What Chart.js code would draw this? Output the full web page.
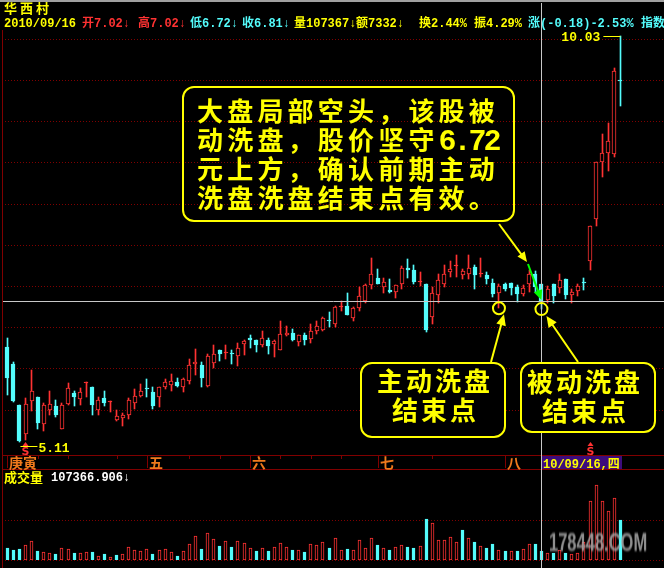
<!DOCTYPE html>
<html>
<head>
<meta charset="utf-8">
<script src="https://cdn.jsdelivr.net/npm/chart.js@4.4.1/dist/chart.umd.min.js"></script>
<style>
  html, body { margin: 0; padding: 0; background: #000; }
  #wrap { position: relative; width: 664px; height: 568px; overflow: hidden; background: #000; }
  #wrap canvas { position: absolute; left: 0; }
  .t { position: absolute; white-space: pre; font-weight: bold; line-height: 1; pointer-events: none; }
  .mono { font-family: "Liberation Mono", "Noto Sans CJK SC", monospace; font-size: 12px; }
  .cjk { font-family: "Noto Sans CJK SC", sans-serif; }
  .box { position: absolute; border: 2px solid #ffff00; border-radius: 12px; box-sizing: border-box; }
  .note { position: absolute; white-space: pre; font-family: "Noto Sans CJK SC", sans-serif; font-weight: bold;
          color: #ffff00; font-size: 26px; line-height: 29px; }
  .note .num { font-family: "Liberation Mono", monospace; font-size: 30px; letter-spacing: -3px; }
  .wm { position: absolute; left: 549px; top: 528px; font-family: "Liberation Sans", sans-serif; font-weight: bold;
        font-size: 25px; color: #a8a8a8; transform: scaleX(0.66); transform-origin: 0 0; filter: blur(0.9px);
        opacity: 0.85; white-space: pre; }
</style>
</head>
<body>
<div id="wrap">
  <canvas id="price" width="664" height="470" style="top:0"></canvas>
  <canvas id="vol" width="664" height="98" style="top:470px"></canvas>
  <div id="labels"></div>
</div>
<script>
// ---- 华西村 daily quotes ----
const dates = [
  '2010-05-12','2010-05-13','2010-05-14','2010-05-17','2010-05-18','2010-05-19','2010-05-20','2010-05-21',
  '2010-05-24','2010-05-25','2010-05-26','2010-05-27','2010-05-28','2010-05-31',
  '2010-06-01','2010-06-02','2010-06-03','2010-06-04','2010-06-07','2010-06-08','2010-06-09','2010-06-10',
  '2010-06-11','2010-06-17','2010-06-18','2010-06-21','2010-06-22','2010-06-23','2010-06-24','2010-06-25',
  '2010-06-28','2010-06-29','2010-06-30',
  '2010-07-01','2010-07-02','2010-07-05','2010-07-06','2010-07-07','2010-07-08','2010-07-09','2010-07-12',
  '2010-07-13','2010-07-14','2010-07-15','2010-07-16','2010-07-19','2010-07-20','2010-07-21','2010-07-22',
  '2010-07-23','2010-07-26','2010-07-27','2010-07-28','2010-07-29','2010-07-30',
  '2010-08-02','2010-08-03','2010-08-04','2010-08-05','2010-08-06','2010-08-09','2010-08-10','2010-08-11',
  '2010-08-12','2010-08-13','2010-08-16','2010-08-17','2010-08-18','2010-08-19','2010-08-20','2010-08-23',
  '2010-08-24','2010-08-25','2010-08-26','2010-08-27','2010-08-30','2010-08-31',
  '2010-09-01','2010-09-02','2010-09-03','2010-09-06','2010-09-07','2010-09-08','2010-09-09','2010-09-10',
  '2010-09-13','2010-09-14','2010-09-15','2010-09-16','2010-09-17','2010-09-20','2010-09-21','2010-09-27',
  '2010-09-28','2010-09-29','2010-09-30',
  '2010-10-08','2010-10-11','2010-10-12','2010-10-13','2010-10-14','2010-10-15'
];

const open = [
  6.26,6.05,5.56,5.21,5.60,5.65,5.33,5.50,5.54,5.26,
  5.57,5.70,5.63,5.82,5.78,5.50,5.64,5.59,5.38,5.40,
  5.44,5.58,5.67,5.76,5.72,5.65,5.77,5.80,5.84,5.77,
  5.85,6.06,6.04,5.79,6.07,6.22,6.19,6.19,6.15,6.30,
  6.37,6.34,6.28,6.35,6.30,6.23,6.41,6.43,6.32,6.41,
  6.36,6.46,6.47,6.59,6.54,6.75,6.76,6.61,6.73,6.82,
  7.01,7.10,6.99,6.95,6.93,7.02,7.22,7.19,7.05,7.02,
  6.62,6.89,7.02,7.17,7.24,7.13,7.15,7.23,7.14,7.13,
  7.04,6.92,7.02,7.04,6.99,6.90,7.03,7.14,7.02,6.83,
  7.02,6.98,7.09,6.89,6.94,7.05,7.30,7.81,8.51,8.61,
  8.60,9.50
];
const high = [
  6.37,6.08,5.56,5.64,5.98,5.65,5.58,5.73,5.62,5.58,
  5.82,5.73,5.76,5.84,5.78,5.65,5.73,5.61,5.50,5.46,
  5.64,5.75,5.81,5.87,5.77,5.78,5.87,5.93,5.88,5.88,
  6.11,6.24,6.08,6.17,6.28,6.22,6.28,6.22,6.31,6.35,
  6.40,6.35,6.46,6.37,6.34,6.57,6.51,6.48,6.40,6.43,
  6.54,6.57,6.62,6.68,6.76,6.82,6.91,6.74,6.99,7.02,
  7.34,7.21,7.10,7.09,7.01,7.24,7.33,7.26,7.17,7.03,
  6.99,7.15,7.26,7.30,7.38,7.21,7.38,7.26,7.34,7.17,
  7.09,7.03,7.04,7.04,7.01,7.01,7.20,7.18,7.02,7.00,
  7.02,7.15,7.09,6.96,7.02,7.10,7.73,8.50,8.85,8.98,
  9.64,10.03
];
const low = [
  5.68,5.59,5.11,5.13,5.48,5.26,5.24,5.44,5.41,5.26,
  5.56,5.55,5.56,5.65,5.44,5.43,5.54,5.47,5.36,5.30,
  5.39,5.51,5.65,5.65,5.51,5.53,5.75,5.73,5.77,5.72,
  5.81,5.92,5.77,5.78,6.01,6.09,6.12,6.05,6.03,6.16,
  6.25,6.20,6.26,6.17,6.14,6.22,6.39,6.33,6.27,6.29,
  6.31,6.42,6.46,6.50,6.50,6.70,6.65,6.58,6.70,6.80,
  6.96,7.03,6.92,6.91,6.85,6.96,7.10,7.02,7.00,6.44,
  6.54,6.79,6.99,7.11,7.11,7.09,7.09,6.96,7.11,7.03,
  6.87,6.73,6.94,6.89,6.81,6.88,6.93,6.93,6.72,6.80,
  6.80,6.92,6.84,6.80,6.88,6.95,7.20,7.73,8.32,8.39,
  8.57,9.19
];
const close = [
  5.88,5.61,5.12,5.57,5.73,5.34,5.56,5.57,5.44,5.56,
  5.76,5.65,5.71,5.83,5.56,5.62,5.58,5.60,5.42,5.44,
  5.62,5.67,5.73,5.75,5.55,5.77,5.84,5.85,5.79,5.87,
  6.04,6.08,5.88,6.15,6.18,6.17,6.20,6.18,6.25,6.33,
  6.34,6.28,6.37,6.27,6.33,6.42,6.43,6.35,6.40,6.35,
  6.46,6.51,6.61,6.57,6.75,6.76,6.65,6.73,6.88,7.01,
  7.15,7.03,7.05,6.93,7.01,7.22,7.19,7.05,7.06,6.47,
  6.91,7.07,7.15,7.21,7.25,7.18,7.22,7.13,7.15,7.09,
  6.90,7.00,6.96,6.98,6.90,6.98,7.15,6.99,6.81,6.97,
  6.88,7.07,6.89,6.93,7.00,7.04,7.73,8.50,8.61,8.76,
  9.61,9.49
];
// 成交量 (手)
const volume = [
  146700,119300,131200,179000,226700,107400,91900,79900,68000,139600,
  131200,83500,79900,91900,95400,47700,71600,35800,59700,68000,
  155100,119300,107400,131200,71600,119300,131200,95400,47700,107400,
  190900,286300,131200,322100,250500,167000,226700,155100,226700,202800,
  143200,107400,143200,107400,155100,202800,155100,119300,119300,95400,
  190900,179000,214700,143200,262500,119300,131200,119300,238600,143200,
  262500,179000,143200,119300,155100,179000,155100,143200,167000,489100,
  441400,238600,238600,274400,214700,357900,262500,214700,167000,143200,
  190900,119300,107400,107400,107400,131200,190900,190900,107366.906,83500,
  83500,119300,83500,71600,83500,214700,703900,894800,703900,584600,
  739700,477200
];

// lunar calendar month starts shown on the date strip
const lunarLabels = ['庚寅', '五', '六', '七', '八'];
const lunarStarts = ['2010-05-12', '2010-06-17', '2010-07-12', '2010-08-10', '2010-09-08'];
const minorTickDates = ['2010-05-19','2010-05-26','2010-06-07','2010-06-28','2010-07-05','2010-07-19',
                        '2010-07-26','2010-08-02','2010-08-23'];
const priceGrid = [5.5, 6.0, 6.5, 7.0, 7.5, 8.0, 8.5, 9.0, 9.5, 10.0];
const volumeGrid = [0, 477000];
const signalDates = ['2010-05-17', '2010-10-08'];
const focusDate = '2010-09-16';
const activeWashDate = '2010-09-07';
const quoteAmount = '7332';
const quoteTurnover = '2.44%';
const quotePct = '-2.53%';
const noteMain = ['大盘局部空头，该股被', '动洗盘，股价坚守' + '6.72', '元上方，确认前期主动', '洗盘洗盘结束点有效。'];
const noteActive = ['主动洗盘', '结束点'];
const notePassive = ['被动洗盘', '结束点'];

// ---- derived ----
const RED = '#ff3232', CYAN = '#54fcfc', YELLOW = '#ffff00', GRID = '#800000', CROSS = '#c8c8c8';
const up = close.map((c, i) => c >= open[i]);
const doji = close.map((c, i) => Math.abs(c - open[i]) < 0.015);
const volUp = close.map((c, i) => i === 0 ? c >= open[i] : c >= close[i - 1]);
const focus = dates.indexOf(focusDate);
const washA = dates.indexOf(activeWashDate);
const hiIdx = high.indexOf(Math.max(...high));
const loIdx = low.indexOf(Math.min(...low));

const xAxis = { type: 'linear', min: -0.544, max: 107.86, offset: false, display: false };

// keep bar edges on whole pixels so the thin candles stay crisp
const pixelSnap = {
  id: 'pixelSnap',
  beforeDatasetsDraw(chart) {
    chart.data.datasets.forEach((ds, k) => {
      chart.getDatasetMeta(k).data.forEach(el => {
        const w = Math.round(el.width);
        el.x = (w % 2 === 1) ? Math.floor(el.x) + 0.5 : Math.round(el.x);
        el.y = Math.round(el.y);
        el.base = Math.round(el.base);
      });
    });
  }
};

function arrow(ctx, x1, y1, x2, y2, color, head) {
  const a = Math.atan2(y2 - y1, x2 - x1);
  ctx.strokeStyle = color; ctx.fillStyle = color; ctx.lineWidth = 2;
  ctx.beginPath();
  ctx.moveTo(x1, y1);
  ctx.lineTo(x2 - Math.cos(a) * head * 0.7, y2 - Math.sin(a) * head * 0.7);
  ctx.stroke();
  ctx.beginPath();
  ctx.moveTo(x2, y2);
  ctx.lineTo(x2 - head * Math.cos(a - 0.42), y2 - head * Math.sin(a - 0.42));
  ctx.lineTo(x2 - head * Math.cos(a + 0.42), y2 - head * Math.sin(a + 0.42));
  ctx.closePath();
  ctx.fill();
}

const pricePanel = {
  id: 'pricePanel',
  beforeDatasetsDraw(chart) {
    const { ctx, scales: { y } } = chart;
    ctx.save();
    ctx.fillStyle = '#a0a0a0';
    ctx.fillRect(0, 0, 664, 2);
    ctx.strokeStyle = GRID; ctx.lineWidth = 1; ctx.setLineDash([1, 2]);
    priceGrid.forEach(v => {
      const py = Math.round(y.getPixelForValue(v)) + 0.5;
      ctx.beginPath(); ctx.moveTo(5, py); ctx.lineTo(664, py); ctx.stroke();
    });
    ctx.restore();
  },
  afterDatasetsDraw(chart) {
    const { ctx, scales: { x, y } } = chart;
    ctx.save();
    // panel frame
    ctx.strokeStyle = GRID; ctx.lineWidth = 1;
    ctx.beginPath(); ctx.moveTo(2.5, 30); ctx.lineTo(2.5, 470); ctx.stroke();
    ctx.beginPath(); ctx.moveTo(2, 455.5); ctx.lineTo(664, 455.5); ctx.moveTo(2, 469.5); ctx.lineTo(664, 469.5); ctx.stroke();
    // date strip ticks and lunar month labels
    minorTickDates.forEach(d => {
      const px = Math.round(x.getPixelForValue(dates.indexOf(d))) + 0.5;
      ctx.beginPath(); ctx.moveTo(px, 456); ctx.lineTo(px, 459); ctx.stroke();
    });
    ctx.font = 'bold 14px "Noto Sans CJK SC"';
    ctx.textBaseline = 'alphabetic';
    lunarStarts.forEach((d, k) => {
      const px = Math.round(x.getPixelForValue(dates.indexOf(d))) + 0.5;
      ctx.strokeStyle = GRID;
      ctx.beginPath(); ctx.moveTo(px, 456); ctx.lineTo(px, 468); ctx.stroke();
      ctx.fillStyle = '#f07a1c';
      ctx.fillText(lunarLabels[k], px + 1.5, 467.5);
    });

    // crosshair
    const cx = Math.floor(x.getPixelForValue(focus)) + 0.5;
    const cy = Math.floor(y.getPixelForValue(close[focus])) + 0.5;
    ctx.strokeStyle = CROSS; ctx.lineWidth = 1;
    ctx.beginPath(); ctx.moveTo(3, cy); ctx.lineTo(664, cy); ctx.stroke();
    ctx.beginPath(); ctx.moveTo(cx, 3); ctx.lineTo(cx, 470); ctx.stroke();

    // crosshair date box
    const [yy, mm, dd] = dates[focus].split('-');
    const wk = '日一二三四五六'[new Date(+yy, +mm - 1, +dd).getDay()];
    ctx.fillStyle = '#3c0c7c';
    ctx.fillRect(cx + 0.5, 456, 80, 13);
    ctx.fillStyle = YELLOW;
    ctx.font = 'bold 12px "Liberation Mono", "Noto Sans CJK SC"';
    ctx.fillText(yy.slice(2) + '/' + mm + '/' + dd + ',' + wk, cx + 1.5, 467.5);

    // signal markers
    ctx.fillStyle = RED;
    signalDates.forEach(d => {
      const px = Math.floor(x.getPixelForValue(dates.indexOf(d))) + 0.5;
      ctx.beginPath(); ctx.moveTo(px, 442); ctx.lineTo(px - 3, 446); ctx.lineTo(px + 3, 446); ctx.closePath(); ctx.fill();
      ctx.font = 'bold 11px "DejaVu Sans"';
      ctx.textAlign = 'center';
      ctx.fillText('S', px, 455);
      ctx.textAlign = 'left';
    });

    // high / low readouts
    ctx.font = 'bold 13px "Liberation Mono"';
    ctx.fillStyle = YELLOW; ctx.strokeStyle = YELLOW; ctx.lineWidth = 1;
    const hx = x.getPixelForValue(hiIdx), hy = Math.round(y.getPixelForValue(high[hiIdx])) + 0.5;
    ctx.beginPath(); ctx.moveTo(hx - 17, hy); ctx.lineTo(hx, hy); ctx.stroke();
    ctx.textAlign = 'right';
    ctx.fillText(high[hiIdx].toFixed(2), hx - 20, hy + 4);
    const lx = x.getPixelForValue(loIdx), ly = Math.round(y.getPixelForValue(low[loIdx])) + 0.5;
    ctx.beginPath(); ctx.moveTo(lx + 1, ly + 4); ctx.lineTo(lx + 18, ly + 4); ctx.stroke();
    ctx.textAlign = 'left';
    ctx.fillText(low[loIdx].toFixed(2), lx + 19, ly + 9);

    // wash-out end points
    const c1 = { x: x.getPixelForValue(washA), y: y.getPixelForValue(low[washA]) };
    const c2 = { x: x.getPixelForValue(focus), y: y.getPixelForValue(low[focus]) };
    ctx.strokeStyle = YELLOW; ctx.lineWidth = 2;
    [c1, c2].forEach(c => { ctx.beginPath(); ctx.arc(c.x, c.y, 6, 0, Math.PI * 2); ctx.stroke(); });

    // callout arrows
    arrow(ctx, 499, 224, 527, 262, YELLOW, 11);
    arrow(ctx, 528, 264, c2.x, c2.y - 9, '#00ff00', 11);
    arrow(ctx, 491, 362, c1.x + 5, c1.y + 6, YELLOW, 12);
    arrow(ctx, 578, 362, c2.x + 5, c2.y + 7, YELLOW, 12);
    ctx.restore();
  }
};

const volPanel = {
  id: 'volPanel',
  beforeDatasetsDraw(chart) {
    const { ctx, scales: { y } } = chart;
    ctx.save();
    ctx.strokeStyle = GRID; ctx.lineWidth = 1; ctx.setLineDash([1, 2]);
    volumeGrid.forEach(v => {
      const py = Math.round(y.getPixelForValue(v)) + 0.5;
      ctx.beginPath(); ctx.moveTo(5, py); ctx.lineTo(664, py); ctx.stroke();
    });
    ctx.restore();
  },
  afterDatasetsDraw(chart) {
    const { ctx, scales: { x } } = chart;
    ctx.save();
    ctx.strokeStyle = GRID; ctx.lineWidth = 1;
    ctx.beginPath(); ctx.moveTo(2.5, 0); ctx.lineTo(2.5, 98); ctx.stroke();
    const cx = Math.floor(x.getPixelForValue(focus)) + 0.5;
    ctx.strokeStyle = CROSS;
    ctx.beginPath(); ctx.moveTo(cx, 0); ctx.lineTo(cx, 98); ctx.stroke();
    ctx.restore();
  }
};

const common = {
  responsive: false, animation: false, devicePixelRatio: 1, events: [],
  plugins: { legend: { display: false }, tooltip: { enabled: false } }
};

new Chart(document.getElementById('price'), {
  type: 'bar',
  data: {
    datasets: [
      {
        label: '影线', order: 2, grouped: false, barThickness: 1,
        data: dates.map((d, i) => ({ x: i, y: [low[i], high[i]] })),
        backgroundColor: up.map(u => u ? RED : CYAN), borderWidth: 0
      },
      {
        label: 'K线', order: 1, grouped: false, barThickness: 4, minBarLength: 1,
        data: dates.map((d, i) => ({ x: i, y: [open[i], close[i]] })),
        backgroundColor: up.map((u, i) => u ? (doji[i] ? RED : '#000') : CYAN),
        borderColor: up.map(u => u ? RED : CYAN), borderWidth: 1, borderSkipped: false
      }
    ]
  },
  options: {
    ...common,
    layout: { padding: { left: 4, right: 2, top: 33, bottom: 15 } },
    scales: { x: xAxis, y: { type: 'linear', min: 4.95, max: 10.07, display: false } }
  },
  plugins: [pixelSnap, pricePanel]
});

new Chart(document.getElementById('vol'), {
  type: 'bar',
  data: {
    datasets: [{
      label: '成交量', grouped: false, barThickness: 3,
      data: dates.map((d, i) => ({ x: i, y: volume[i] })),
      backgroundColor: volUp.map(u => u ? '#000' : CYAN),
      borderColor: volUp.map(u => u ? RED : CYAN), borderWidth: 1, borderSkipped: false
    }]
  },
  options: {
    ...common,
    layout: { padding: { left: 4, right: 2, top: 0, bottom: 8 } },
    scales: { x: xAxis, y: { type: 'linear', min: 0, max: 1073700, display: false } }
  },
  plugins: [pixelSnap, volPanel]
});

// ---- text layer ----
const layer = document.getElementById('labels');
function put(text, cls, color, left, top, extra) {
  const s = document.createElement('div');
  s.className = 't ' + cls;
  s.textContent = text;
  s.style.color = color; s.style.left = left + 'px'; s.style.top = top + 'px';
  if (extra) Object.assign(s.style, extra);
  layer.appendChild(s);
  return s;
}
put('华西村', 'cjk', YELLOW, 4, 1, { fontSize: '13px', letterSpacing: '3px' });

const q = focus, pc = close[q - 1];
const amp = ((high[q] - low[q]) / pc * 100).toFixed(2) + '%';
const chg = (close[q] - pc).toFixed(2);
[
  [dates[q].replace(/-/g, '/'), YELLOW, 4],
  ['开' + open[q].toFixed(2) + '↓', RED, 82],
  ['高' + high[q].toFixed(2) + '↓', RED, 138],
  ['低' + low[q].toFixed(2) + '↓', CYAN, 190],
  ['收' + close[q].toFixed(2) + '↓', CYAN, 242],
  ['量' + Math.round(volume[q]) + '↓', YELLOW, 294],
  ['额' + quoteAmount + '↓', YELLOW, 356],
  ['换' + quoteTurnover, YELLOW, 419],
  ['振' + amp, YELLOW, 474],
  ['涨(' + chg + ')' + quotePct, CYAN, 528],
  ['指数', CYAN, 641]
].forEach(([t, c, l]) => put(t, 'mono', c, l, 18));

put('成交量', 'cjk', YELLOW, 4, 470, { fontSize: '13px' });
put(volume[q].toFixed(3) + '↓', 'mono', '#ffffff', 51, 472);

// callout boxes
function box(l, t, w, h, bg) {
  const b = document.createElement('div');
  b.className = 'box';
  Object.assign(b.style, { left: l + 'px', top: t + 'px', width: w + 'px', height: h + 'px', background: bg });
  layer.appendChild(b);
}
function note(lines, left, top, spacing) {
  lines.forEach((ln, k) => {
    const d = document.createElement('div');
    d.className = 'note';
    d.style.left = (Array.isArray(left) ? left[k] : left) + 'px';
    d.style.top = (top + k * 29) + 'px';
    d.style.letterSpacing = spacing + 'px';
    const m = ln.match(/^(.*?)([\d.]+)$/);
    if (m) {
      d.appendChild(document.createTextNode(m[1]));
      const n = document.createElement('span');
      n.className = 'num'; n.textContent = m[2];
      d.appendChild(n);
    } else {
      d.textContent = ln;
    }
    layer.appendChild(d);
  });
}
box(182, 86, 333, 136, 'transparent');
note(noteMain, 197, 95, 4.2);
box(360, 362, 146, 76, '#000');
note(noteActive, [377, 392], 365, 3);
box(520, 362, 136, 71, '#000');
note(notePassive, [527, 542], 366, 3);

const wm = document.createElement('div');
wm.className = 'wm'; wm.textContent = '178448.COM';
layer.appendChild(wm);
</script>
</body>
</html>
